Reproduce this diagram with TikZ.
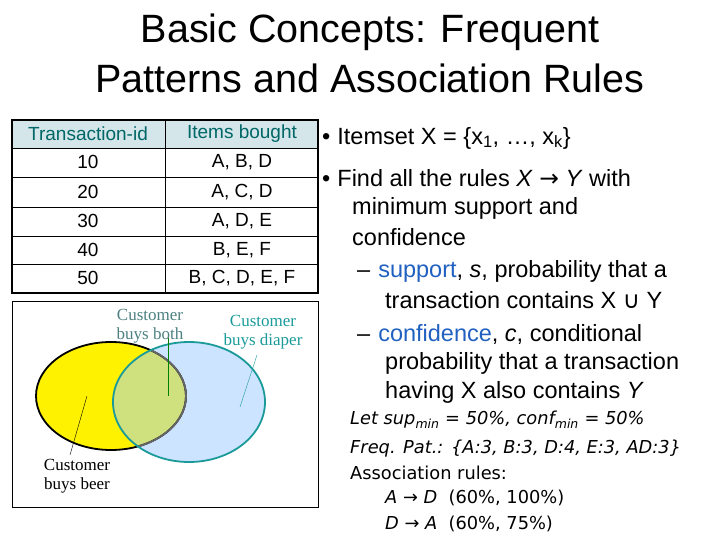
\documentclass[tikz,border=0pt]{standalone}
\usepackage{fontspec}
\setmainfont{Liberation Sans}
\newfontfamily\serf{Liberation Serif}
\newfontfamily\dvs{DejaVu Sans}
\begin{document}
\begin{tikzpicture}[x=1pt,y=-1pt,
  cell/.style={font=\fontsize{19}{21}\selectfont},
  hdr/.style={font=\fontsize{19}{21}\selectfont, text=teal!80!black},
  btxt/.style={anchor=west,font=\fontsize{23.5}{26}\selectfont,inner sep=0},
  rtxt/.style={anchor=west,font=\dvs\fontsize{17.8}{20}\selectfont,inner sep=0},
  vlab/.style={font=\serf\fontsize{17}{19}\selectfont,align=center,inner sep=0}]
\definecolor{hblue}{HTML}{D4E6EA}
\definecolor{tealc}{HTML}{1B9A9A}
\definecolor{venblue}{HTML}{CCE4FF}
\definecolor{vengreen}{HTML}{CFE07E}
\definecolor{kwblue}{HTML}{2060C0}
\useasboundingbox (0,0) rectangle (720,540);
% title
\node[font=\fontsize{39.5}{42}\selectfont] (t1) at (370,32) {Basic Concepts: Frequent};
\node[font=\fontsize{39.5}{42}\selectfont] (t2) at (370,78) {Patterns and Association Rules};
% table
\fill[hblue] (12,120) rectangle (318,148);
\foreach \y in {148,177,207,236,264} \draw[line width=0.8pt] (12,\y) -- (318,\y);
\draw[line width=1.5pt] (12,120) rectangle (318,293);
\draw[line width=1pt] (165,120) -- (165,293);
\node[hdr] (h1) at (88,134) {Transaction-id};
\node[hdr] (h2) at (242,134) {Items bought};
\node[cell] (a1) at (88,162) {10}; \node[cell] (b1) at (242,162) {A, B, D};
\node[cell] (a2) at (88,192) {20}; \node[cell] (b2) at (242,192) {A, C, D};
\node[cell] (a3) at (88,221) {30}; \node[cell] (b3) at (242,221) {A, D, E};
\node[cell] (a4) at (88,250) {40}; \node[cell] (b4) at (242,250) {B, E, F};
\node[cell] (a5) at (88,278) {50}; \node[cell] (b5) at (242,278) {B, C, D, E, F};
% venn
\draw[line width=0.6pt] (12,301) rectangle (318,507);
\fill[yellow] (111,396) ellipse [x radius=75, y radius=54];
\fill[venblue] (189,402) ellipse [x radius=76, y radius=60];
\begin{scope}
\clip (111,396) ellipse [x radius=75, y radius=54];
\fill[vengreen] (189,402) ellipse [x radius=76, y radius=60];
\end{scope}
\draw[line width=1.8pt] (111,396) ellipse [x radius=75, y radius=54];
\begin{scope}
\clip (189,402) ellipse [x radius=76, y radius=60];
\draw[line width=1.8pt,gray!80!black] (111,396) ellipse [x radius=75, y radius=54];
\end{scope}
\draw[line width=1.8pt,tealc] (189,402) ellipse [x radius=76, y radius=60];
\node[vlab,text=gray!60!teal] (vboth) at (150,326) {Customer\\buys both};
\coordinate (pboth) at (168,396);
\draw[green!50!black] (168,338) -- (pboth);
\node[vlab,text=tealc] (vdia) at (263,332) {Customer\\buys diaper};
\coordinate (pdia) at (240,407);
\draw[tealc] (257,355) -- (pdia);
\node[vlab] (vbeer) at (77,476) {Customer\\buys beer};
\coordinate (pbeer) at (87,396);
\draw (70,455) -- (pbeer);
% bullets
\node[btxt] (l1) at (322,138) {•\hspace{7pt}Itemset X = \{x\textsubscript{1}, …, x\textsubscript{k}\}};
\node[btxt] (l2) at (322,178) {•\hspace{7pt}Find all the rules \textit{X} {\dvs→} \textit{Y} with};
\node[btxt] (l3) at (352,208) {minimum support and};
\node[btxt] (l4) at (352,237) {confidence};
\node[btxt] (l5) at (357,271) {–\hspace{8pt}\textcolor{kwblue}{support}, \textit{s}, probability that a};
\node[btxt] (l6) at (385,300) {transaction contains X {\dvs∪} Y};
\node[btxt] (l7) at (357,334) {–\hspace{8pt}\textcolor{kwblue}{confidence}, \textit{c}, conditional};
\node[btxt] (l8) at (385,363) {probability that a transaction};
\node[btxt] (l9) at (385,392) {having X also contains \textit{Y}};
% rules
\node[rtxt] (r1) at (350,420) {\textit{Let sup\textsubscript{min} = 50\%, conf\textsubscript{min} = 50\%}};
\node[rtxt] (r2) at (350,449) {\textit{Freq. Pat.: \{A:3, B:3, D:4, E:3, AD:3\}}};
\node[rtxt] (r3) at (350,473) {Association rules:};
\node[rtxt] (r4) at (385,498) {\textit{A} → \textit{D}\ \ (60\%, 100\%)};
\node[rtxt] (r5) at (385,524) {\textit{D} → \textit{A}\ \ (60\%, 75\%)};
\end{tikzpicture}
\end{document}
